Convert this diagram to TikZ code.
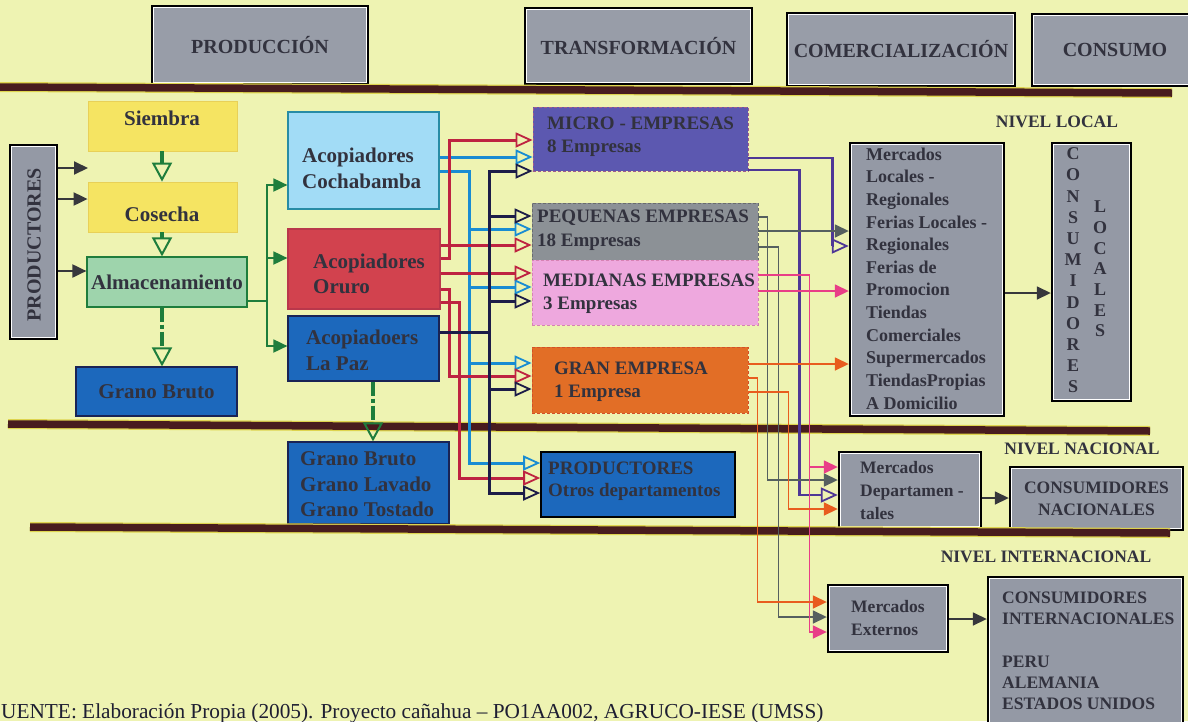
\documentclass[tikz,border=0pt]{standalone}
\usepackage{fontspec}
\setmainfont{Liberation Serif}
\usetikzlibrary{arrows.meta}

\definecolor{paper}{RGB}{238,243,178}
\definecolor{ink}{RGB}{50,50,62}
\definecolor{hdrgrey}{RGB}{152,157,168}
\definecolor{mktgrey}{RGB}{148,153,165}
\definecolor{wheat}{RGB}{245,228,98}
\definecolor{wheatdk}{RGB}{232,208,88}
\definecolor{mint}{RGB}{158,212,172}
\definecolor{leaf}{RGB}{30,125,60}
\definecolor{royal}{RGB}{28,104,188}
\definecolor{royaldk}{RGB}{25,35,85}
\definecolor{sky}{RGB}{162,220,246}
\definecolor{skydk}{RGB}{40,140,165}
\definecolor{brick}{RGB}{210,66,78}
\definecolor{brickdk}{RGB}{185,55,75}
\definecolor{violet}{RGB}{92,88,176}
\definecolor{violetdk}{RGB}{160,90,140}
\definecolor{slate}{RGB}{140,145,150}
\definecolor{slatedk}{RGB}{105,108,110}
\definecolor{rose}{RGB}{238,168,222}
\definecolor{rosedk}{RGB}{215,130,180}
\definecolor{amber}{RGB}{226,110,38}
\definecolor{amberdk}{RGB}{210,80,40}
\definecolor{barbrown}{RGB}{72,28,30}
\definecolor{barglow}{RGB}{222,212,78}
\definecolor{wirered}{RGB}{190,35,65}
\definecolor{wireblue}{RGB}{25,140,210}
\definecolor{wirenavy}{RGB}{28,28,72}
\definecolor{wirepurple}{RGB}{78,55,150}
\definecolor{wiregrey}{RGB}{85,95,95}
\definecolor{wirepink}{RGB}{232,62,135}
\definecolor{wireorange}{RGB}{232,92,30}
\definecolor{arrowdark}{RGB}{55,55,60}
\definecolor{captionink}{RGB}{30,30,50}

\newcommand\fsz[2]{\fontsize{#1pt}{#2pt}\selectfont\bfseries}

\tikzset{
  ftip/.tip={Triangle[length=14pt,width=13pt]},
  otip/.tip={Triangle[open,length=17pt,width=15pt,line width=1.8pt]},
  gotip/.tip={Triangle[open,length=19pt,width=20pt,line width=2pt]},
}

\begin{document}
\begin{tikzpicture}[x=1pt,y=-1pt,
  every node/.style={inner sep=0pt, text=ink},
  framed/.style={draw=black, line width=2.4pt,
    path picture={\draw[white,line width=4.4pt]
      (path picture bounding box.south west) rectangle (path picture bounding box.north east);}},
  header/.style={framed, fill=hdrgrey, font=\fsz{20}{24}},
  market/.style={framed, fill=mktgrey},
  stage/.style={fill=wheat, draw=wheatdk, line width=0.8pt},
  lbl/.style={anchor=west, align=left},
  sepbar/.style={draw=barbrown, line width=7.5pt, preaction={draw=barglow, line width=10pt}},
  darkarrow/.style={draw=arrowdark, line width=2pt, -{ftip}},
  gstep/.style={draw=leaf, line width=3.5pt, -{gotip}},
  gline/.style={draw=leaf, line width=1.8pt},
  gbranch/.style={draw=leaf, line width=1.8pt, -{ftip}},
  feed/.style={line width=3pt, -{otip}},
  sale/.style={line width=1.6pt, -{ftip}},
  saleopen/.style={line width=2.6pt, -{otip}},
  levelname/.style={font=\fsz{17.5}{21}},
]
\useasboundingbox[fill=paper] (0,0) rectangle (1188,721);

% ---- stage headings
\node[header, minimum width=216, minimum height=78] (hprod) at (260,45) {PRODUCCIÓN};
\node[header, minimum width=227, minimum height=76] (htrans) at (638.5,46) {TRANSFORMACIÓN};
\node[header, minimum width=228, minimum height=73] (hcom) at (901,49.5) {COMERCIALIZACIÓN};
\node[header, minimum width=190, minimum height=72] (hcons) at (1127,50) {};
\node[font=\fsz{20}{24}] (hcons-t) at (1115,50) {CONSUMO};

% ---- production
\node[market, minimum width=47, minimum height=194] (prodl) at (33.5,242) {};
\node[rotate=90, font=\fsz{20}{24}] (prodl-t) at (34,245) {PRODUCTORES};

\node[stage, minimum width=149, minimum height=50] (siembra) at (162.5,126) {};
\node[font=\fsz{21}{25}] (siembra-t) at (162,118) {Siembra};
\node[stage, minimum width=149, minimum height=50] (cosecha) at (162.5,207) {};
\node[font=\fsz{21}{25}] (cosecha-t) at (162,214) {Cosecha};
\node[fill=mint, draw=leaf, line width=1.2pt, minimum width=160, minimum height=50,
      font=\fsz{21}{25}] (almac) at (167,282) {Almacenamiento};
\node[fill=royal, draw=royaldk, line width=1.2pt, minimum width=161, minimum height=49,
      font=\fsz{21}{25}] (grano1) at (156.5,391.5) {Grano Bruto};

% ---- collectors
\node[fill=sky, draw=skydk, line width=1.2pt, minimum width=151, minimum height=97] (cbba) at (363.5,160.5) {};
\node[lbl, font=\fsz{21}{26}] (cbba-t) at (302,168) {Acopiadores\\Cochabamba};
\node[fill=brick, draw=brickdk, line width=1.2pt, minimum width=152, minimum height=80] (oruro) at (364,269) {};
\node[lbl, font=\fsz{21}{25}] (oruro-t) at (313,273.5) {Acopiadores\\Oruro};
\node[fill=royal, draw=royaldk, line width=1.2pt, minimum width=151, minimum height=65] (lapaz) at (363.5,348.5) {};
\node[lbl, font=\fsz{21}{26}] (lapaz-t) at (306,350) {Acopiadoers\\La Paz};
\node[fill=royal, draw=royaldk, line width=1.2pt, minimum width=161, minimum height=82] (grano2) at (368.5,483) {};
\node[lbl, font=\fsz{21}{25.5}] (grano2-t) at (300,484.5) {Grano Bruto\\Grano Lavado\\Grano Tostado};

% ---- transformation
\node[fill=violet, draw=violetdk, line width=0.8pt, densely dashed, minimum width=215, minimum height=64] (micro) at (640.5,139) {};
\node[lbl, font=\fsz{19}{23}] (micro-t) at (547,136.5) {MICRO - EMPRESAS\\8 Empresas};
\node[fill=slate, draw=slatedk, line width=0.8pt, densely dashed, minimum width=226, minimum height=57] (peq) at (645,231.5) {};
\node[lbl, font=\fsz{19}{24}] (peq-t) at (537,230) {PEQUENAS EMPRESAS\\18 Empresas};
\node[fill=rose, draw=rosedk, line width=0.8pt, densely dashed, minimum width=226, minimum height=65] (med) at (645,292.5) {};
\node[lbl, font=\fsz{19}{23}] (med-t) at (543,293.5) {MEDIANAS EMPRESAS\\3 Empresas};
\node[fill=amber, draw=amberdk, line width=0.8pt, densely dashed, minimum width=216, minimum height=66] (gran) at (640,380) {};
\node[lbl, font=\fsz{19}{23}] (gran-t) at (554,381.5) {GRAN EMPRESA\\1 Empresa};
\node[fill=royal, draw=black, line width=1.6pt, minimum width=194, minimum height=65] (prodo) at (638,484.5) {};
\node[lbl, font=\fsz{19}{22}] (prodo-t) at (548,481) {PRODUCTORES\\Otros departamentos};

% ---- markets and consumers
\node[levelname] (nlocal) at (1057,122) {NIVEL LOCAL};
\node[market, minimum width=154, minimum height=273] (mloc) at (927,279.5) {};
\node[lbl, font=\fsz{18}{22.64}] (mloc-t) at (866,278.5)
  {Mercados\\Locales -\\Regionales\\Ferias Locales -\\Regionales\\Ferias de\\Promocion\\Tiendas\\Comerciales\\Supermercados\\TiendasPropias\\A Domicilio};
\node[market, minimum width=79, minimum height=258] (consloc) at (1091.5,272) {};
\node[align=center, font=\fsz{18}{21.2}] (consloc-a) at (1073,270.5) {C\\O\\N\\S\\U\\M\\I\\D\\O\\R\\E\\S};
\node[align=center, font=\fsz{18}{20.7}] (consloc-b) at (1100,269) {L\\O\\C\\A\\L\\E\\S};

\node[levelname] (nnac) at (1082,449) {NIVEL NACIONAL};
\node[market, minimum width=142, minimum height=76] (mdep) at (910,490) {};
\node[lbl, font=\fsz{17.5}{23}] (mdep-t) at (860,491) {Mercados\\Departamen -\\tales};
\node[market, minimum width=173, minimum height=63, align=center, font=\fsz{17.5}{22}] (consnac) at (1096.5,498.5) {CONSUMIDORES\\NACIONALES};

\node[levelname] (ninter) at (1046,557) {NIVEL INTERNACIONAL};
\node[market, minimum width=120, minimum height=67] (mext) at (888,618.5) {};
\node[lbl, font=\fsz{17.5}{23}] (mext-t) at (851,618.5) {Mercados\\Externos};
\node[market, minimum width=195, minimum height=148] (consint) at (1085.5,651) {};
\node[lbl, font=\fsz{17.5}{21.2}] (consint-t) at (1002,651)
  {CONSUMIDORES\\INTERNACIONALES\\[21.2pt]PERU\\ALEMANIA\\ESTADOS UNIDOS};

% ---- level separators
\draw[sepbar] (0,87) -- (1172,93);
\draw[sepbar] (8,424) -- (1150,431);
\draw[sepbar] (30,527) -- (1170,533);

% ---- producers into production steps
\coordinate (gapmark) at (88,168);
\draw[darkarrow] (prodl.east |- gapmark) -- (gapmark);
\draw[darkarrow] (prodl.east |- 0,199) -- (cosecha.west |- 0,199);
\draw[darkarrow] (prodl.east |- 0,271) -- (almac.west |- 0,271);

\draw[gstep] (siembra.south -| 162,0) -- (cosecha.north -| 162,0);
\draw[gstep] (cosecha.south -| 162,0) -- (almac.north -| 162,0);
\draw[gstep, dash pattern=on 14pt off 3pt on 4pt off 3pt] (almac.south -| 162,0) -- (grano1.north -| 162,0);

% ---- storage to collectors
\coordinate (split) at (267,301);
\draw[gline] (almac.east |- split) -- (split);
\draw[gbranch] (split) |- (cbba.west |- 0,185);
\draw[gbranch] (split) |- (oruro.west |- 0,258);
\draw[gbranch] (split) |- (lapaz.west |- 0,346);
\draw[gstep, dash pattern=on 14pt off 3pt on 4pt off 3pt] (lapaz.south -| 373,0) -- (grano2.north -| 373,0);

% ---- Cochabamba supply
\draw[feed, wireblue] (cbba.east |- 0,157) -- (micro.west |- 0,157);
\coordinate (bluetrunk) at (469,171);
\draw[feed, wireblue] (cbba.east |- bluetrunk) -- (bluetrunk) |- (prodo.west |- 0,463);
\draw[feed, wireblue] (bluetrunk |- 0,229) -- (peq.west |- 0,229);
\draw[feed, wireblue] (bluetrunk |- 0,287) -- (med.west |- 0,287);
\draw[feed, wireblue] (bluetrunk |- 0,363) -- (gran.west |- 0,363);

% ---- Oruro supply
\draw[feed, wirered] (oruro.east |- 0,258) -- ++(9,0) |- (micro.west |- 0,140);
\draw[feed, wirered] (oruro.east |- 0,245) -- (peq.west |- 0,245);
\draw[feed, wirered] (oruro.east |- 0,273) -- (med.west |- 0,273);
\draw[feed, wirered] (oruro.east |- 0,289) -- ++(9,0) |- (gran.west |- 0,376);
\draw[feed, wirered] (oruro.east |- 0,302) -- ++(19,0) |- (prodo.west |- 0,478);

% ---- La Paz supply
\coordinate (navytrunk) at (489,332);
\draw[line width=3pt, wirenavy] (lapaz.east |- navytrunk) -- (navytrunk);
\draw[feed, wirenavy] (navytrunk) |- (micro.west |- 0,171);
\draw[feed, wirenavy] (navytrunk) |- (prodo.west |- 0,493);
\draw[feed, wirenavy] (navytrunk |- 0,216) -- (peq.west |- 0,216);
\draw[feed, wirenavy] (navytrunk |- 0,301) -- (med.west |- 0,301);
\draw[feed, wirenavy] (navytrunk |- 0,389) -- (gran.west |- 0,389);

% ---- firms to markets
\draw[saleopen, wirepurple] (micro.east |- 0,158) -- ++(84,0) |- (mloc.west |- 0,246);
\draw[saleopen, wirepurple] (micro.east |- 0,170) -- ++(51,0) |- (mdep.west |- 0,495);

\draw[sale, wiregrey] (peq.east |- 0,217) -- ++(9,0) |- (mdep.west |- 0,480);
\draw[sale, wiregrey] (peq.east |- 0,231) -- (mloc.west |- 0,231);
\draw[sale, wiregrey] (peq.east |- 0,247) -- ++(20,0) |- (mext.west |- 0,617);

\path (med.east |- 0,275) ++(51,0) coordinate (pinkdrop);
\draw[sale, wirepink] (med.east |- pinkdrop) -- (pinkdrop) |- (mext.west |- 0,632);
\draw[sale, wirepink] (pinkdrop |- 0,467) -- (mdep.west |- 0,467);
\draw[sale, wirepink] (med.east |- 0,291) -- (mloc.west |- 0,291);

\draw[sale, wireorange] (gran.east |- 0,364) -- (mloc.west |- 0,364);
\draw[sale, wireorange] (gran.east |- 0,378) -- ++(9,0) |- (mext.west |- 0,602);
\draw[sale, wireorange] (gran.east |- 0,392) -- ++(40,0) |- (mdep.west |- 0,509);

% ---- markets to consumers
\draw[darkarrow, line width=1.6pt] (mloc.east |- 0,293) -- (consloc.west |- 0,293);
\draw[darkarrow, line width=1.6pt] (mdep.east |- 0,498) -- (consnac.west |- 0,498);
\draw[darkarrow, line width=1.6pt] (mext.east |- 0,619) -- (consint.west |- 0,619);

% ---- source note
\node[anchor=base west, font=\fontsize{21.3}{25}\selectfont, text=captionink] (fuente) at (1,718)
  {UENTE: Elaboración Propia (2005). Proyecto cañahua – PO1AA002, AGRUCO-IESE (UMSS)};
\end{tikzpicture}
\end{document}
